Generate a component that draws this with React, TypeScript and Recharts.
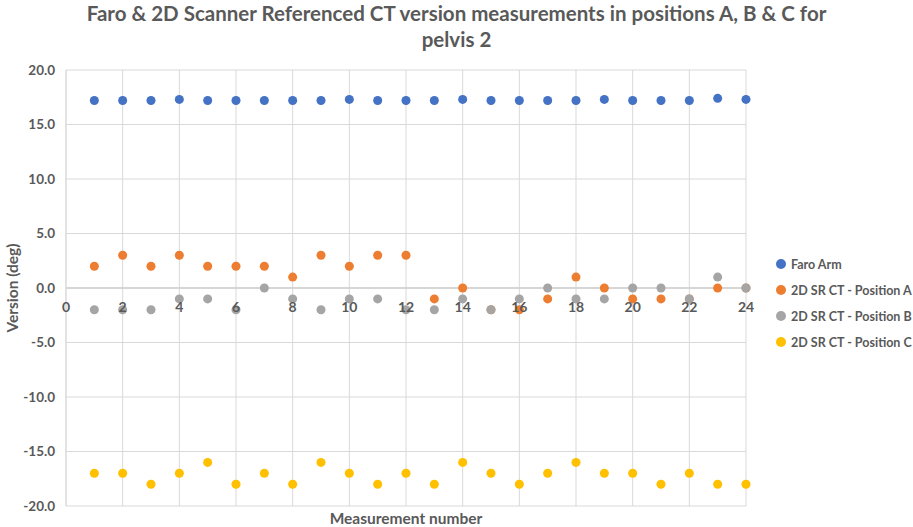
import React from "react";
import {
  ScatterChart,
  Scatter,
  XAxis,
  YAxis,
  ZAxis,
  CartesianGrid,
  Legend,
  ReferenceLine,
} from "recharts";

const measurementNumbers = [1, 2, 3, 4, 5, 6, 7, 8, 9, 10, 11, 12, 13, 14, 15, 16, 17, 18, 19, 20, 21, 22, 23, 24];
const faroArm = [17.2, 17.2, 17.2, 17.3, 17.2, 17.2, 17.2, 17.2, 17.2, 17.3, 17.2, 17.2, 17.2, 17.3, 17.2, 17.2, 17.2, 17.2, 17.3, 17.2, 17.2, 17.2, 17.4, 17.3];
const positionA = [2, 3, 2, 3, 2, 2, 2, 1, 3, 2, 3, 3, -1, 0, -2, -2, -1, 1, 0, -1, -1, -1, 0, 0];
const positionB = [-2, -2, -2, -1, -1, -2, 0, -1, -2, -1, -1, -2, -2, -1, -2, -1, 0, -1, -1, 0, 0, -1, 1, 0];
const positionC = [-17, -17, -18, -17, -16, -18, -17, -18, -16, -17, -18, -17, -18, -16, -17, -18, -17, -16, -17, -17, -18, -17, -18, -18];

const xTicks = [0, 2, 4, 6, 8, 10, 12, 14, 16, 18, 20, 22, 24];
const yTicks = [-20, -15, -10, -5, 0, 5, 10, 15, 20];

const seriesNames = ["Faro Arm", "2D SR CT - Position A", "2D SR CT - Position B", "2D SR CT - Position C"];
const seriesColors = ["#4472C4", "#ED7D31", "#A5A5A5", "#FFC000"];
const seriesValues = [faroArm, positionA, positionB, positionC];

const FONT = "Lato, 'Open Sans', sans-serif";
const TEXT = "#595959";
const GRID = "#d9d9d9";
const CHART_W = 913;
const CHART_H = 527;
const MARGIN = { top: 70, right: 167, bottom: 1, left: 6 };
const X_AXIS_H = 20;
const PLOT_H = CHART_H - MARGIN.top - MARGIN.bottom - X_AXIS_H;

const XTick = (props: any) => {
  const { x, y, payload } = props;
  return (
    <text
      x={x}
      y={y - PLOT_H / 2 + 24}
      textAnchor="middle"
      fill={TEXT}
      fontFamily={FONT}
      fontWeight={700}
      fontSize={14}
    >
      {payload.value}
    </text>
  );
};

const LegendContent = (props: any) => {
  const items = [...(props.payload || [])].sort(
    (a: any, b: any) => seriesNames.indexOf(a.value) - seriesNames.indexOf(b.value)
  );
  return (
    <div style={{ fontFamily: FONT }}>
      {items.map((item: any) => (
        <div
          key={item.value}
          style={{ display: "flex", alignItems: "center", height: 26, whiteSpace: "nowrap" }}
        >
          <span
            style={{
              display: "inline-block",
              width: 10,
              height: 10,
              borderRadius: 5,
              background: item.color,
              marginRight: 5,
            }}
          />
          <span style={{ color: TEXT, fontWeight: 700, fontSize: 12.5 }}>{item.value}</span>
        </div>
      ))}
    </div>
  );
};

export default function App() {
  return (
    <div style={{ position: "absolute", left: 0, top: 0, width: CHART_W, height: CHART_H, background: "#fff" }}>
      <div
        style={{
          position: "absolute",
          left: 0,
          top: 0,
          width: CHART_W,
          textAlign: "center",
          fontFamily: FONT,
          fontWeight: 700,
          fontSize: 20.5,
          lineHeight: "26px",
          color: TEXT,
          zIndex: 2,
        }}
      >
        <div>Faro &amp; 2D Scanner Referenced CT version measurements in positions A, B &amp; C for</div>
        <div>pelvis 2</div>
      </div>
      <ScatterChart width={CHART_W} height={CHART_H} margin={MARGIN}>
        <CartesianGrid stroke={GRID} strokeWidth={1} />
        <XAxis
          type="number"
          dataKey="x"
          domain={[0, 24]}
          ticks={xTicks}
          interval={0}
          height={X_AXIS_H}
          axisLine={false}
          tickLine={false}
          tickSize={0}
          tickMargin={0}
          tick={<XTick />}
          label={{
            value: "Measurement number",
            position: "insideBottom",
            offset: 2,
            style: { fill: TEXT, fontFamily: FONT, fontWeight: 700, fontSize: 15.5 },
          }}
        />
        <YAxis
          type="number"
          dataKey="y"
          domain={[-20, 20]}
          ticks={yTicks}
          interval={0}
          width={60}
          axisLine={{ stroke: GRID }}
          tickLine={false}
          tickSize={0}
          tickMargin={11}
          tickFormatter={(v: number) => v.toFixed(1)}
          tick={{ fill: TEXT, fontFamily: FONT, fontWeight: 700, fontSize: 13.5 }}
          label={{
            value: "Version (deg)",
            angle: -90,
            position: "insideLeft",
            offset: 6,
            style: { fill: TEXT, fontFamily: FONT, fontWeight: 700, fontSize: 15.5, textAnchor: "middle" },
          }}
        />
        <ZAxis range={[80, 80]} />
        <ReferenceLine y={0} stroke="#cfcfcf" strokeWidth={1.5} />
        <Legend
          layout="vertical"
          align="center"
          verticalAlign="middle"
          content={<LegendContent />}
          wrapperStyle={{ left: 776, top: 251, width: 140 }}
        />
        {seriesNames.map((name, s) => (
          <Scatter
            key={name}
            name={name}
            data={measurementNumbers.map((x, i) => ({ x, y: seriesValues[s][i] }))}
            fill={seriesColors[s]}
            shape="circle"
            isAnimationActive={false}
          />
        ))}
      </ScatterChart>
    </div>
  );
}
